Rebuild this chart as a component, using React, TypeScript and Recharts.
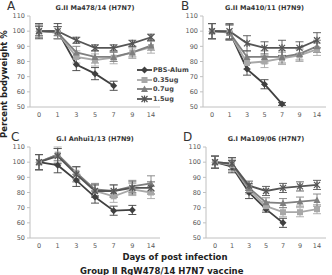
import React from "react";
import { LineChart, Line, XAxis, YAxis, ErrorBar } from "recharts";

const days = ["0", "1", "3", "5", "7", "9", "14"];
const yTicks = [50, 60, 70, 80, 90, 100, 110];

// A: G.II Ma478/14 (H7N7)
const aPbs = [100, 100, 78, 72, 64, null, null];
const aPbsErr = [5, 5, 4, 4, 3, null, null];
const aLow = [100, 99, 83, 81, 82.5, 86, 89.5];
const aLowErr = [4, 4, 4, 4, 4, 4, 4];
const aMid = [100, 99, 86, 83, 83, 86, 90.5];
const aMidErr = [4, 4, 4, 4, 3, 3, 3];
const aHigh = [100, 100, 94, 89, 89, 92, 96];
const aHighErr = [3, 3, 2, 2, 2, 2, 2];

// B: G.II Ma410/11 (H7N9)
const bPbs = [100, 99.5, 75, 65, 52, null, null];
const bPbsErr = [5, 5, 4, 3, 1, null, null];
const bLow = [100, 99, 79, 80, 82, 84, 88];
const bLowErr = [5, 5, 4, 4, 4, 4, 4];
const bMid = [100, 99, 83, 83, 83, 85, 90];
const bMidErr = [5, 5, 4, 4, 4, 4, 4];
const bHigh = [100, 100, 92, 89, 89, 89, 94];
const bHighErr = [5, 5, 5, 4, 5, 4, 5];

// C: G.I Anhui1/13 (H7N9)
const cPbs = [100, 98, 88, 77, 68, 68.5, null];
const cPbsErr = [5, 5, 4, 4, 3, 3, null];
const cLow = [100, 105, 93, 81, 77.5, 82, 80];
const cLowErr = [5, 5, 4, 4, 4, 4, 4];
const cMid = [100, 105, 93, 82, 81, 84, 86];
const cMidErr = [5, 4, 4, 4, 4, 4, 5];
const cHigh = [100, 104, 92, 81, 81, 83, 83];
const cHighErr = [5, 5, 5, 4, 4, 4, 4];

// D: G.I Ma109/06 (H7N7)
const dPbs = [100, 97, 80, 69, 60, null, null];
const dPbsErr = [4, 4, 4, 2, 3, null, null];
const dLow = [100, 98, 82, 71, 67, 67, 69];
const dLowErr = [4, 4, 3, 3, 3, 3, 3];
const dMid = [100, 99, 83, 73.5, 73, 74, 75];
const dMidErr = [4, 4, 3, 3, 3, 3, 4];
const dHigh = [100, 99, 84.5, 81, 83, 84, 85];
const dHighErr = [4, 4, 3, 3, 3, 3, 3];

const series = [
  { key: "pbs", name: "PBS-Alum", color: "#404040", shape: "diamond" },
  { key: "low", name: "0.35ug", color: "#a8a8a8", shape: "square" },
  { key: "mid", name: "0.7ug", color: "#7f7f7f", shape: "triangle" },
  { key: "high", name: "1.5ug", color: "#555555", shape: "star" },
];

function rows(pbs, pbsErr, low, lowErr, mid, midErr, high, highErr) {
  return days.map((day, i) => ({
    day,
    pbs: pbs[i], pbsErr: pbsErr[i],
    low: low[i], lowErr: lowErr[i],
    mid: mid[i], midErr: midErr[i],
    high: high[i], highErr: highErr[i],
  }));
}

const panels = [
  { letter: "A", title: "G.II Ma478/14 (H7N7)", left: 0, top: 0, yw: 22, letterX: 7,
    data: rows(aPbs, aPbsErr, aLow, aLowErr, aMid, aMidErr, aHigh, aHighErr) },
  { letter: "B", title: "G.II Ma410/11 (H7N9)", left: 166, top: 0, yw: 29, letterX: 15,
    data: rows(bPbs, bPbsErr, bLow, bLowErr, bMid, bMidErr, bHigh, bHighErr) },
  { letter: "C", title: "G.I Anhui1/13 (H7N9)", left: 0, top: 131, yw: 22, letterX: 11,
    data: rows(cPbs, cPbsErr, cLow, cLowErr, cMid, cMidErr, cHigh, cHighErr) },
  { letter: "D", title: "G.I Ma109/06 (H7N7)", left: 166, top: 131, yw: 32, letterX: 17,
    data: rows(dPbs, dPbsErr, dLow, dLowErr, dMid, dMidErr, dHigh, dHighErr) },
];

function Marker({ cx, cy, shape, color }) {
  if (cx == null || cy == null || isNaN(cy)) return <g />;
  if (shape === "diamond")
    return <polygon points={`${cx},${cy - 3.5} ${cx + 3.5},${cy} ${cx},${cy + 3.5} ${cx - 3.5},${cy}`} fill={color} />;
  if (shape === "square")
    return <rect x={cx - 3} y={cy - 3} width={6} height={6} fill={color} />;
  if (shape === "triangle")
    return <polygon points={`${cx},${cy - 3.5} ${cx + 3.5},${cy + 3} ${cx - 3.5},${cy + 3}`} fill={color} />;
  return (
    <g stroke={color} strokeWidth={1.2}>
      <line x1={cx - 3} y1={cy - 3} x2={cx + 3} y2={cy + 3} />
      <line x1={cx - 3} y1={cy + 3} x2={cx + 3} y2={cy - 3} />
      <line x1={cx} y1={cy - 3.5} x2={cx} y2={cy + 3.5} />
    </g>
  );
}

const tickStyle = { fontSize: 6.5, fill: "#595959", fontFamily: "DejaVu Sans" };
const font = "DejaVu Sans";

function YTick({ x, y, payload }) {
  return (
    <text x={x} y={y} dy="0.35em" textAnchor="end" fontSize={6.5} fill="#595959" fontFamily={font}>
      {payload.value}
    </text>
  );
}

function Panel({ p }) {
  return (
    <div style={{ position: "absolute", left: p.left, top: p.top, width: 166, height: 124 }}>
      <div style={{ position: "absolute", left: p.letterX, top: 0, fontSize: 12, color: "#333", fontFamily: font, lineHeight: "12px" }}>
        {p.letter}
      </div>
      <div style={{ position: "absolute", left: 8 + p.yw, width: 158 - 6 - p.yw, top: 4, textAlign: "center", fontSize: 6.5, fontWeight: "bold", color: "#333", fontFamily: font, whiteSpace: "nowrap", lineHeight: "9px" }}>
        {p.title}
      </div>
      <LineChart width={166} height={124} data={p.data} margin={{ top: 16, right: 6, bottom: 0, left: 8 }}>
        <XAxis dataKey="day" interval={0} height={17} tickLine={false} tickSize={3} tickMargin={2}
          padding={{ left: 9, right: 9 }} axisLine={{ stroke: "#c0c0c0" }} tick={tickStyle} />
        <YAxis domain={[50, 110]} ticks={yTicks} interval={0} width={p.yw} tickSize={3} tickMargin={2}
          axisLine={{ stroke: "#c0c0c0" }} tickLine={{ stroke: "#c0c0c0" }} tick={<YTick />} />
        {series.map((s) => (
          <Line key={s.key} dataKey={s.key} name={s.name} stroke={s.color} strokeWidth={1.8}
            isAnimationActive={false} connectNulls={false}
            dot={(d) => <Marker key={`${s.key}-${d.index}`} cx={d.cx} cy={d.cy} shape={s.shape} color={s.color} />}
            activeDot={false}>
            <ErrorBar dataKey={`${s.key}Err`} width={4} strokeWidth={0.9} stroke={s.color} direction="y" isAnimationActive={false} />
          </Line>
        ))}
      </LineChart>
    </div>
  );
}

function LegendBox() {
  return (
    <div style={{ position: "absolute", left: 137, top: 65, fontFamily: font, fontSize: 6.5, fontWeight: "bold", color: "#444" }}>
      {series.map((s) => (
        <div key={s.key} style={{ display: "flex", alignItems: "center", height: 9.7, whiteSpace: "nowrap" }}>
          <svg width={15} height={8}>
            <line x1={0} y1={4} x2={15} y2={4} stroke={s.color} strokeWidth={1.8} />
            <Marker cx={7.5} cy={4} shape={s.shape} color={s.color} />
          </svg>
          <span style={{ marginLeft: 1 }}>{s.name}</span>
        </div>
      ))}
    </div>
  );
}

export default function App() {
  return (
    <div style={{ position: "absolute", left: 0, top: 0, width: 332, height: 275, overflow: "hidden", background: "#fff" }}>
      {panels.map((p) => <Panel key={p.letter} p={p} />)}
      <LegendBox />
      <div style={{ position: "absolute", left: -46, top: 83, width: 100, textAlign: "center", transform: "rotate(-90deg)", fontSize: 8.5, fontWeight: "bold", color: "#222", fontFamily: font, whiteSpace: "nowrap", lineHeight: "10px" }}>
        Percent bodyweight %
      </div>
      <div style={{ position: "absolute", left: 100, width: 150, top: 252, textAlign: "center", fontSize: 8.5, fontWeight: "bold", color: "#222", fontFamily: font, lineHeight: "10px" }}>
        Days of post infection
      </div>
      <div style={{ position: "absolute", left: 80, width: 162, top: 266, textAlign: "center", fontSize: 8.5, fontWeight: "bold", color: "#222", fontFamily: font, whiteSpace: "nowrap", lineHeight: "10px" }}>
        Group Ⅱ RgW478/14 H7N7 vaccine
      </div>
    </div>
  );
}
